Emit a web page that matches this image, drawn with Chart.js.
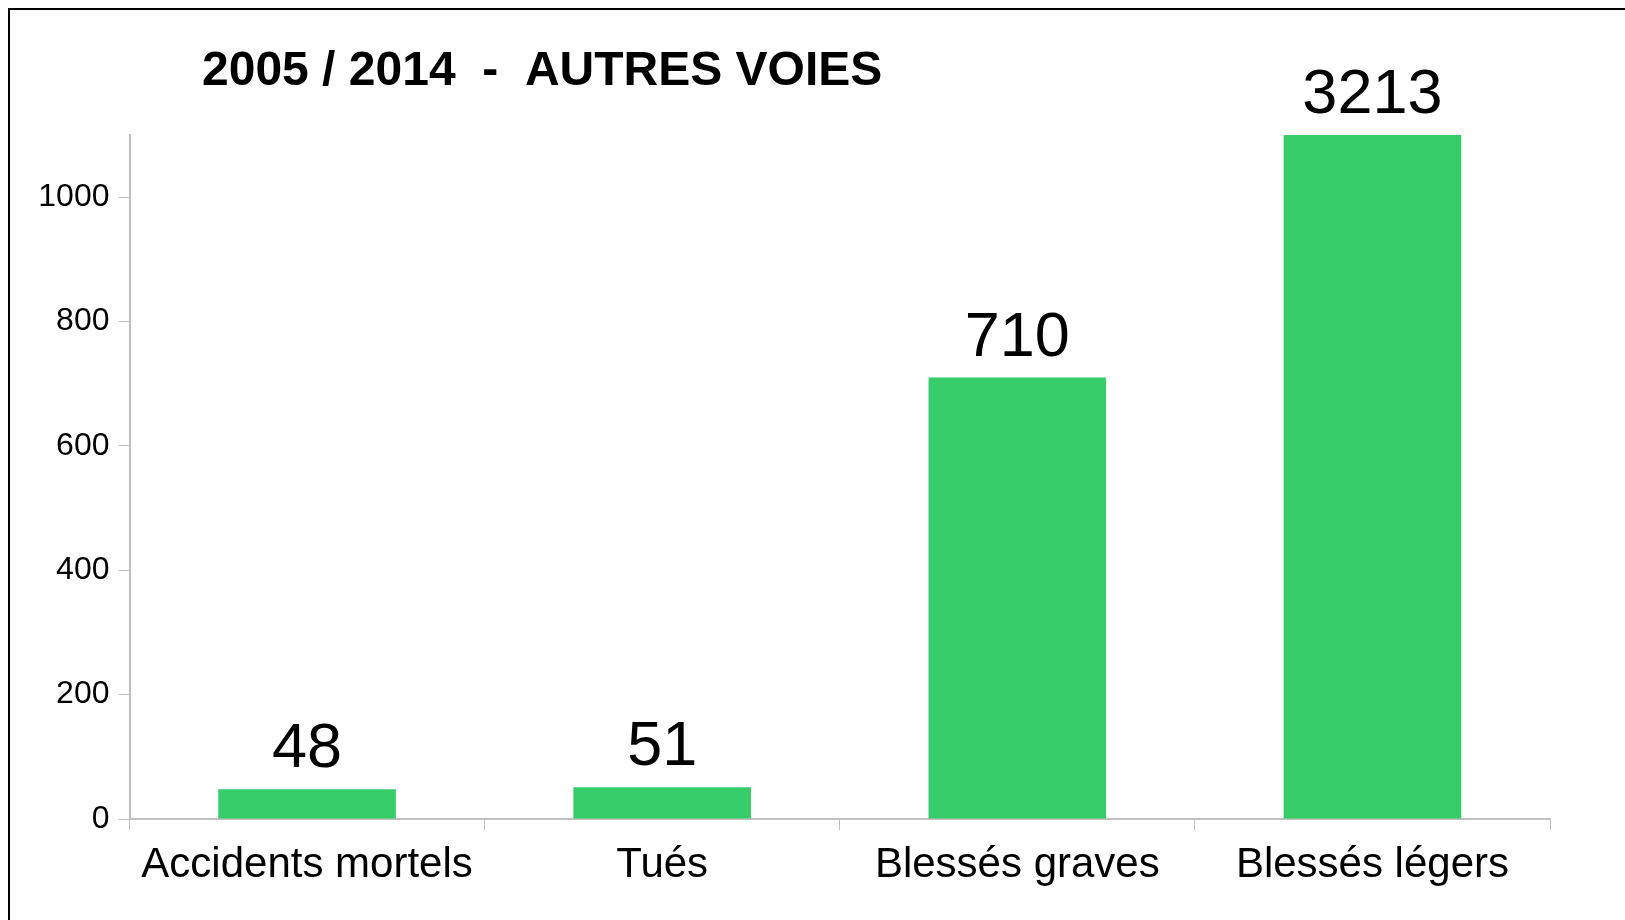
<!DOCTYPE html>
<html>
<head>
<meta charset="utf-8">
<script src="https://cdn.jsdelivr.net/npm/chart.js@4/dist/chart.umd.min.js"></script>
<style>
  html, body { margin: 0; padding: 0; background: #fff; }
  #wrap { position: relative; width: 1625px; height: 920px; }
  #frame { position: absolute; left: 8px; top: 8px; right: -5px; bottom: -5px; border-left: 2px solid #000; border-top: 2px solid #000; pointer-events: none; }
</style>
</head>
<body>
<div id="wrap">
  <canvas id="myChart" width="1625" height="920"></canvas>
  <div id="frame"></div>
</div>
<script>
const ctx = document.getElementById('myChart')

const titleText = '2005 / 2014  -  AUTRES VOIES'
const categories = ['Accidents mortels', 'Tués', 'Blessés graves', 'Blessés légers']
const values = [48, 51, 710, 3213]
const yTicks = [0, 200, 400, 600, 800, 1000]
const yMax = 1100

const fontFamily = '"Liberation Sans", Arial, sans-serif'

// title and value labels drawn on the canvas
const labelsPlugin = {
    id: 'labels',
    afterDatasetsDraw(chart) {
        const c = chart.ctx
        const area = chart.chartArea
        c.save()
        c.fillStyle = '#000'
        c.font = 'bold 48px ' + fontFamily
        c.textAlign = 'left'
        c.textBaseline = 'alphabetic'
        c.fillText(titleText, 202, 85)

        c.font = '63px ' + fontFamily
        c.textAlign = 'center'
        const meta = chart.getDatasetMeta(0)
        meta.data.forEach((bar, i) => {
            const top = Math.max(bar.y, area.top)
            c.fillText(String(values[i]), bar.x, top - 22)
        })
        c.restore()
    }
}

const chart = new Chart(ctx, {
    type: 'bar',
    data: {
        labels: categories,
        datasets: [{
            data: values,
            backgroundColor: '#36cc6a',
            borderWidth: 0,
            barPercentage: 0.5,
            categoryPercentage: 1
        }]
    },
    options: {
        responsive: false,
        animation: false,
        layout: {
            padding: { left: 0, top: 135, right: 75, bottom: 0 }
        },
        plugins: {
            legend: { display: false },
            tooltip: { enabled: false }
        },
        scales: {
            x: {
                grid: {
                    display: true,
                    drawOnChartArea: false,
                    drawTicks: true,
                    tickLength: 11,
                    color: '#c0c0c0',
                    offset: true
                },
                border: { color: '#c0c0c0', width: 2 },
                ticks: {
                    color: '#000',
                    padding: 10,
                    font: { family: fontFamily, size: 42 }
                },
                afterFit(scale) { scale.height = 101 }
            },
            y: {
                min: 0,
                max: yMax,
                afterBuildTicks(scale) {
                    scale.ticks = yTicks.map(v => ({ value: v }))
                },
                grid: {
                    display: true,
                    drawOnChartArea: false,
                    drawTicks: true,
                    tickLength: 11,
                    color: '#c0c0c0'
                },
                border: { color: '#c0c0c0', width: 2 },
                ticks: {
                    color: '#000',
                    padding: 9,
                    font: { family: fontFamily, size: 32 },
                    callback: v => String(v)
                },
                afterFit(scale) { scale.width = 129.5 }
            }
        }
    },
    plugins: [labelsPlugin]
})
</script>
</body>
</html>
